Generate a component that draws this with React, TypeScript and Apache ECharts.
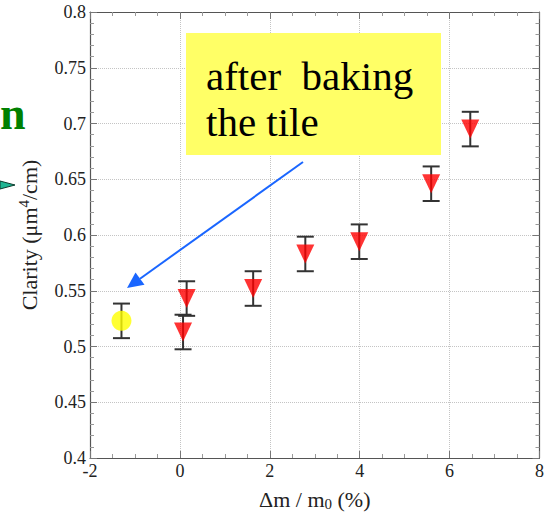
import React, { useEffect, useRef } from "react";
import * as echarts from "echarts";

// Data: after baking the tile (yellow circle) and other samples (red triangles)
const bakedX = [-1.3];
const bakedY = [0.523];
const bakedErr = [0.0155];

const tileX = [0.07, 0.15, 1.63, 2.79, 3.99, 5.59, 6.46];
const tileY = [0.513, 0.543, 0.552, 0.583, 0.594, 0.646, 0.695];
const tileErr = [0.0155, 0.0155, 0.0155, 0.0155, 0.0155, 0.0155, 0.0155];

const xTicks = { min: -2, max: 8, interval: 2 };
const yTicks = { min: 0.4, max: 0.8, interval: 0.05 };

const annotationLines = ["after  baking", "the tile"];

const FONT = "Liberation Serif";

export default function App() {
  const ref = useRef<HTMLDivElement>(null);
  useEffect(() => {
    document.body.style.margin = "0";
    if (!ref.current) return;
    const chart = echarts.init(ref.current, undefined, { renderer: "svg" });

    const errData = (xs: number[], ys: number[], es: number[]) =>
      xs.map((x, i) => [x, ys[i], ys[i] - es[i], ys[i] + es[i]]);

    const errSeries = (data: number[][]) => ({
      type: "custom",
      z: 2,
      silent: true,
      data,
      renderItem: (params: any, api: any) => {
        const x = api.value(0);
        const lo = api.coord([x, api.value(2)]);
        const hi = api.coord([x, api.value(3)]);
        const cap = 8.5;
        const style = { stroke: "#333", lineWidth: 2 };
        return {
          type: "group",
          children: [
            { type: "line", shape: { x1: lo[0], y1: lo[1], x2: hi[0], y2: hi[1] }, style },
            { type: "line", shape: { x1: lo[0] - cap, y1: lo[1], x2: lo[0] + cap, y2: lo[1] }, style },
            { type: "line", shape: { x1: hi[0] - cap, y1: hi[1], x2: hi[0] + cap, y2: hi[1] }, style },
          ],
        };
      },
    });

    const axisLine = { show: true, onZero: false, lineStyle: { color: "#555", width: 1.2 } };
    const axisTick = { show: true, inside: true, length: 7, lineStyle: { color: "#777" } };
    const minor = (n: number) => ({ show: true, splitNumber: n, length: 4, lineStyle: { color: "#999" } });
    const grid = { show: true, lineStyle: { color: "#c4c4c4", type: "dotted", width: 1 } };
    const label = { color: "#222", fontFamily: FONT, fontSize: 18, margin: 4 };

    chart.setOption({
      animation: false,
      textStyle: { fontFamily: FONT },
      grid: { left: 90, right: 3, top: 12, bottom: 67, containLabel: false },
      xAxis: [
        {
          type: "value",
          ...xTicks,
          axisLine,
          axisTick,
          minorTick: minor(4),
          axisLabel: label,
          splitLine: grid,
          name: "{a|Δm / m}{sub|0}{a| (%)}",
          nameLocation: "middle",
          nameGap: 29,
          nameTextStyle: {
            rich: {
              a: { fontFamily: FONT, fontSize: 22, color: "#222" },
              sub: { fontFamily: FONT, fontSize: 15, color: "#222", verticalAlign: "bottom", padding: [9, 0, 0, 0] },
            },
          },
        },
        {
          type: "value",
          position: "top",
          ...xTicks,
          axisLine,
          axisTick,
          minorTick: minor(4),
          axisLabel: { show: false },
          splitLine: { show: false },
        },
      ],
      yAxis: [
        {
          type: "value",
          ...yTicks,
          axisLine,
          axisTick,
          minorTick: minor(5),
          axisLabel: label,
          splitLine: grid,
          name: "{a|Clarity (μm}{sup|4}{a|/cm)}",
          nameLocation: "middle",
          nameGap: 48,
          nameRotate: 90,
          nameTextStyle: {
            rich: {
              a: { fontFamily: FONT, fontSize: 22, color: "#222" },
              sup: { fontFamily: FONT, fontSize: 15, color: "#222", verticalAlign: "top", padding: [0, 0, 11, 0] },
            },
          },
        },
        {
          type: "value",
          position: "right",
          ...yTicks,
          axisLine,
          axisTick,
          minorTick: minor(5),
          axisLabel: { show: false },
          splitLine: { show: false },
        },
      ],
      series: [
        errSeries(errData(bakedX, bakedY, bakedErr)),
        errSeries(errData(tileX, tileY, tileErr)),
        {
          type: "scatter",
          z: 3,
          symbol: "circle",
          symbolSize: 20,
          itemStyle: { color: "#ffff00" },
          data: bakedX.map((x, i) => [x, bakedY[i]]),
        },
        {
          type: "scatter",
          z: 3,
          symbol: "triangle",
          symbolRotate: 180,
          symbolSize: [18, 19],
          itemStyle: { color: "#ff0000" },
          data: tileX.map((x, i) => [x, tileY[i]]),
        },
      ],
      graphic: [
        {
          type: "rect",
          shape: { x: 186, y: 33, width: 255, height: 122 },
          style: { fill: "#ffff66" },
          z: 10,
        },
        {
          type: "text",
          x: 206,
          y: 76,
          z: 11,
          style: {
            text: annotationLines[0],
            font: `41px ${FONT}`,
            fill: "#000",
            verticalAlign: "middle",
          },
        },
        {
          type: "text",
          x: 206,
          y: 122,
          z: 11,
          style: {
            text: annotationLines[1],
            font: `41px ${FONT}`,
            fill: "#000",
            verticalAlign: "middle",
          },
        },
        {
          type: "line",
          z: 11,
          shape: { x1: 303, y1: 162, x2: 140, y2: 278.7 },
          style: { stroke: "#1a66ff", lineWidth: 2 },
        },
        {
          type: "polygon",
          z: 11,
          shape: { points: [[127, 288], [144.5, 284.8], [135.5, 272.6]] },
          style: { fill: "#1a66ff" },
        },
        {
          type: "text",
          x: 0,
          y: 113,
          z: 11,
          style: {
            text: "n",
            font: `bold 46px ${FONT}`,
            fill: "#008000",
            align: "left",
            verticalAlign: "middle",
          },
        },
        {
          type: "polygon",
          z: 11,
          shape: { points: [[0, 181], [15, 185], [0, 189]] },
          style: { fill: "#1fb593", stroke: "#0d3d2e", lineWidth: 1 },
        },
      ],
    });
    return () => chart.dispose();
  }, []);
  return <div ref={ref} style={{ width: 547, height: 525 }} />;
}
